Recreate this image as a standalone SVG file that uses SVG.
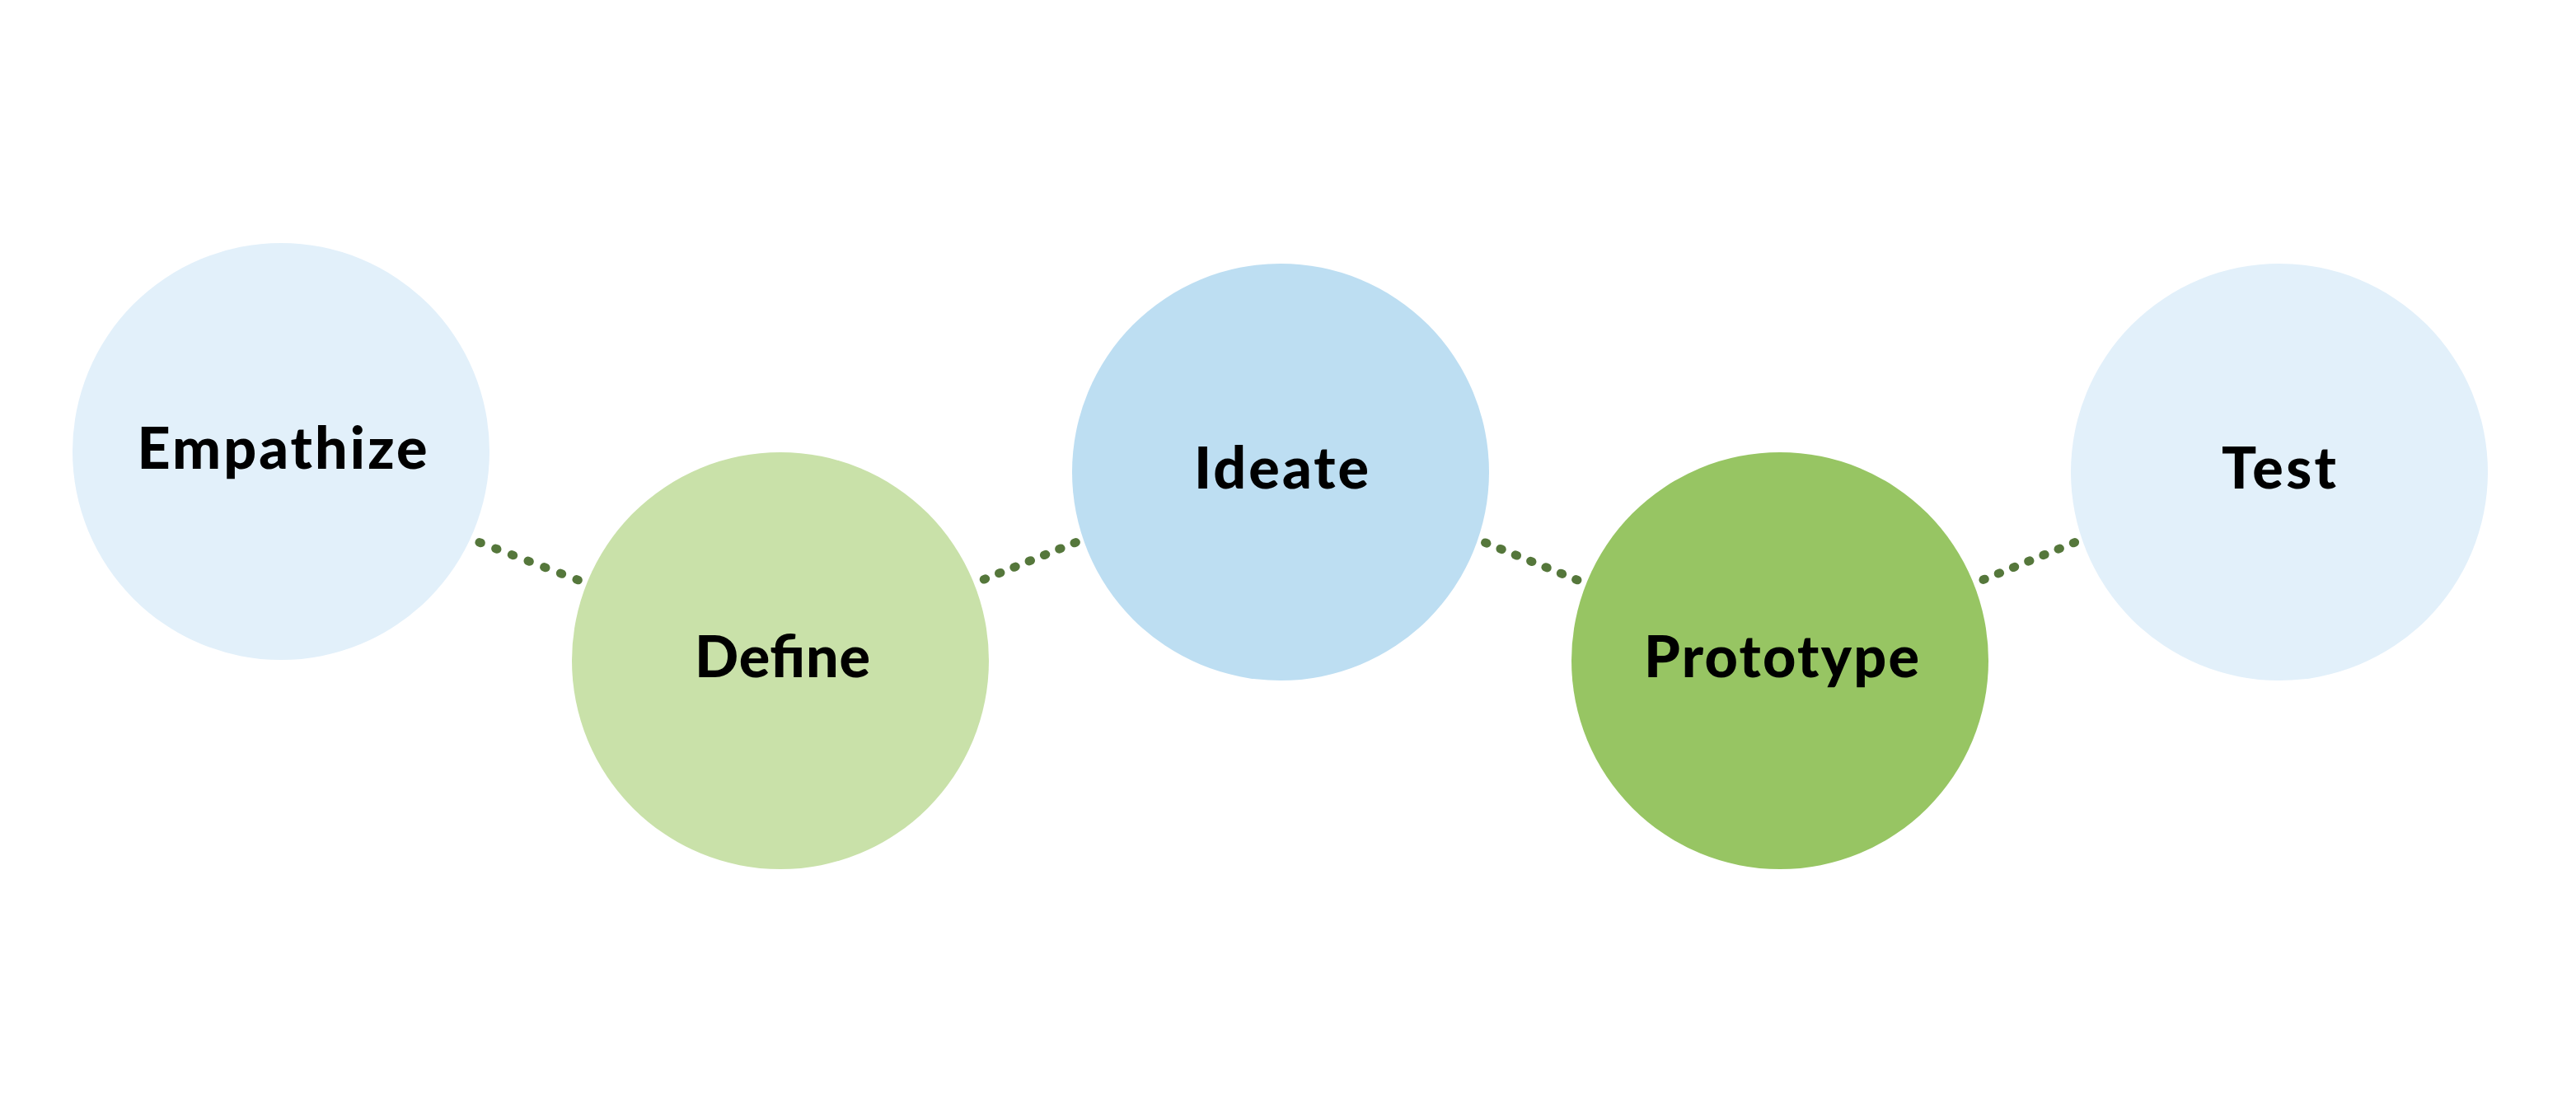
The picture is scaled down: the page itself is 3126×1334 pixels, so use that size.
<svg xmlns="http://www.w3.org/2000/svg" width="3126" height="1334" viewBox="0 0 3126 1334">
  <style>
    .bg { fill: #ffffff; }
    .pale { fill: #E2F0FA; }
    .blue { fill: #BDDEF2; }
    .lgreen { fill: #C9E1A9; }
    .green { fill: #97C563; }
    .label { font-family: Lato, "Open Sans", "Liberation Sans", sans-serif; font-weight: 900; font-size: 70px; fill: #000000; text-anchor: middle; }
    .dots { stroke: #55773B; stroke-width: 10.5; stroke-linecap: round; fill: none; }
  </style>
  <rect class="bg" x="0" y="0" width="3126" height="1334"/>
  <g id="connectors">
    <line class="dots" x1="581.7" y1="658.3" x2="701.6" y2="704.1" stroke-dasharray="2 19.06"/>
    <line class="dots" x1="1194" y1="703.3" x2="1305.6" y2="658.3" stroke-dasharray="2 17.72"/>
    <line class="dots" x1="1802.3" y1="658.7" x2="1914.2" y2="704.1" stroke-dasharray="2 17.8"/>
    <line class="dots" x1="2406.7" y1="703.7" x2="2517.9" y2="658.3" stroke-dasharray="2 17.68"/>
  </g>
  <g id="empathize">
    <circle class="pale" cx="341" cy="548" r="253"/>
    <text class="label" x="342.5" y="569" textLength="352" lengthAdjust="spacing">Empathize</text>
  </g>
  <g id="define">
    <circle class="lgreen" cx="947" cy="802" r="253"/>
    <text class="label" x="949.5" y="822" textLength="213" lengthAdjust="spacing">Define</text>
  </g>
  <g id="ideate">
    <circle class="blue" cx="1554" cy="573" r="253"/>
    <text class="label" x="1555" y="593" textLength="212" lengthAdjust="spacing">Ideate</text>
  </g>
  <g id="prototype">
    <circle class="green" cx="2160" cy="802" r="253"/>
    <text class="label" x="2162" y="822" textLength="334" lengthAdjust="spacing">Prototype</text>
  </g>
  <g id="test">
    <circle class="pale" cx="2766" cy="573" r="253"/>
    <text class="label" x="2765.5" y="593" textLength="139" lengthAdjust="spacing">Test</text>
  </g>
</svg>
